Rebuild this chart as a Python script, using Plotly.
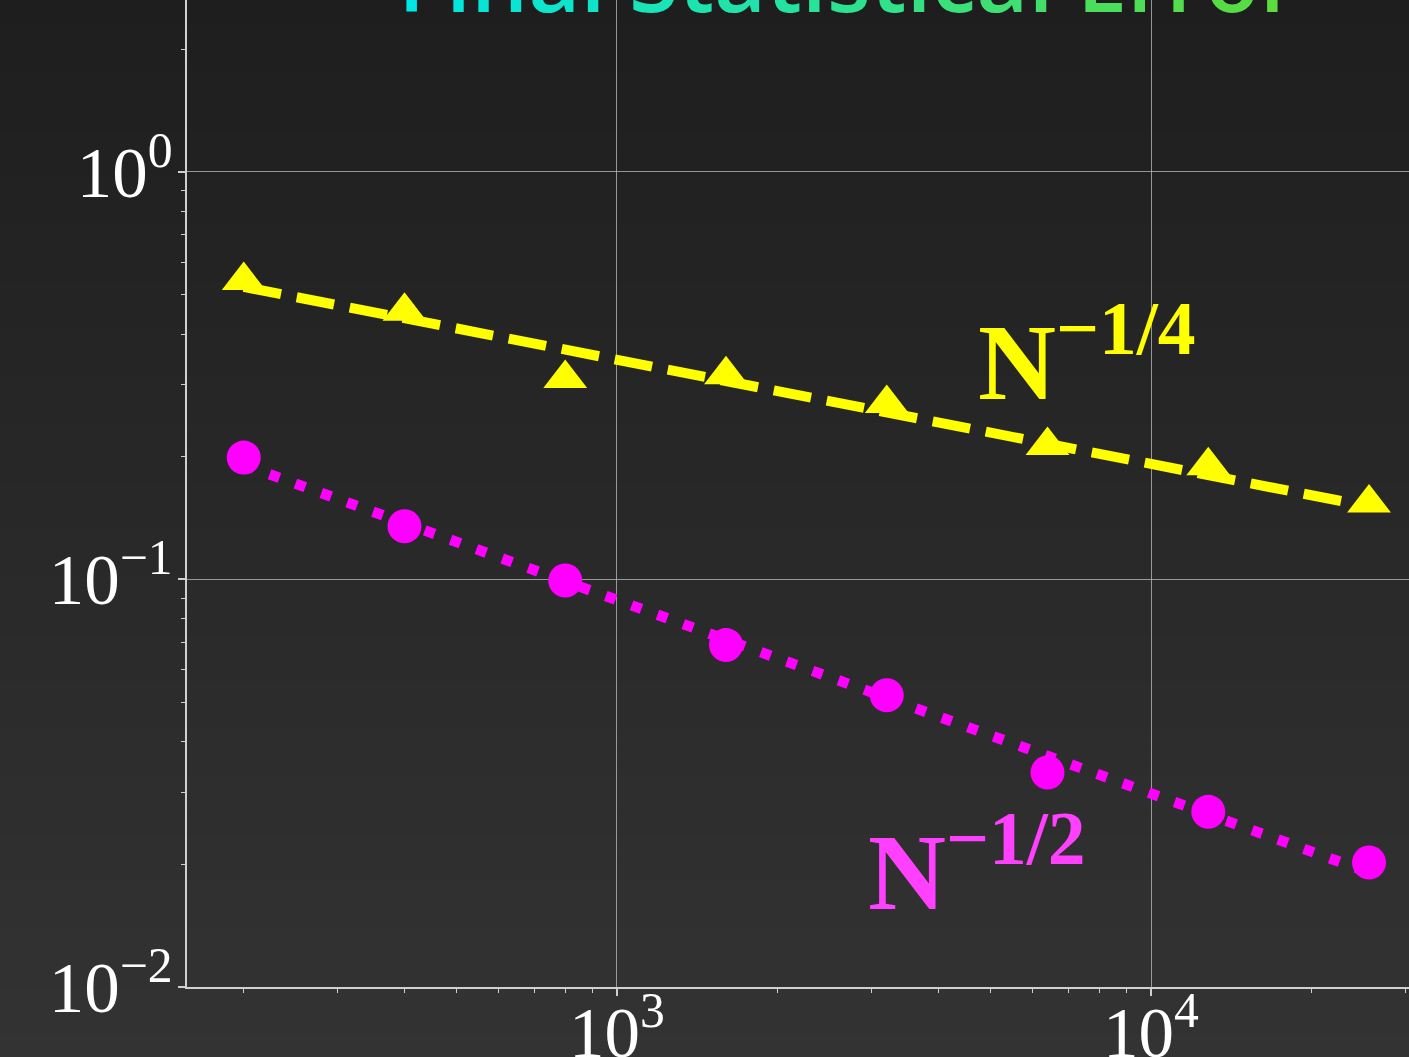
import plotly.graph_objects as go

# ---------------- data ----------------
N = [200, 400, 800, 1600, 3200, 6400, 12800, 25600]
err_half = [0.199, 0.135, 0.0994, 0.0690, 0.0520, 0.0336, 0.0269, 0.0202]      # magenta circles
err_quarter = [0.541, 0.455, 0.311, 0.318, 0.270, 0.213, 0.190, 0.154]         # yellow triangles

ref_N = [200, 25600]
ref_half = [0.191, 0.0191]      # dotted reference line ~ N^-1/2
ref_quarter = [0.522, 0.151]    # dashed reference line ~ N^-1/4

x_tickvals = [1e3, 1e4]
x_ticktext = ["10<sup>3</sup>", "10<sup>4</sup>"]
x_minor_vals = [200, 300, 400, 500, 600, 700, 800, 900,
                2000, 3000, 4000, 5000, 6000, 7000, 8000, 9000,
                20000, 30000]
y_tickvals = [0.01, 0.1, 1]
y_ticktext = ["10<sup>\u22122</sup>", "10<sup>\u22121</sup>", "10<sup>0</sup>"]
y_minor_vals = [0.02, 0.03, 0.04, 0.05, 0.06, 0.07, 0.08, 0.09,
                0.2, 0.3, 0.4, 0.5, 0.6, 0.7, 0.8, 0.9, 2]

title_text = "Final Statistical Error"
label_quarter = "N<sup>\u22121/4</sup>"
label_half = "N<sup>\u22121/2</sup>"

# ---------------- styling ----------------
W, H = 1409, 1057
ML, MR, MT, MB = 187, 0, 0, 70
YELLOW = "#ffff00"
MAGENTA = "#ff00ff"
MAGENTA_TXT = "#ff40ff"
AXIS_COL = "#d0d0d0"
GRID_COL = "rgba(190,190,190,0.75)"

fig = go.Figure()

fig.add_trace(go.Scatter(x=ref_N, y=ref_quarter, mode="lines",
                         line=dict(color=YELLOW, width=10, dash="38px,16px"),
                         hoverinfo="skip"))
fig.add_trace(go.Scatter(x=ref_N, y=ref_half, mode="lines",
                         line=dict(color=MAGENTA, width=10.5, dash="10.5px,17px"),
                         hoverinfo="skip"))
fig.add_trace(go.Scatter(x=N, y=err_quarter, mode="markers",
                         marker=dict(symbol="triangle-up", size=38, color=YELLOW,
                                     line=dict(width=0))))
fig.add_trace(go.Scatter(x=N, y=err_half, mode="markers",
                         marker=dict(symbol="circle", size=34, color=MAGENTA,
                                     line=dict(width=0))))

# background vertical gradient (#1e1e1e top -> #333333 bottom)
shapes = []
nb = 90
plot_h = H - MT - MB
plot_w = W - ML - MR
for i in range(nb):
    p0 = i * H / nb
    p1 = (i + 1) * H / nb + 0.8
    t = (i + 0.5) / nb
    c = int(round(30 + (51 - 30) * t))
    shapes.append(dict(type="rect", xref="paper", yref="paper",
                       x0=-ML / plot_w - 0.01, x1=1 + 0.01,
                       y0=(plot_h + MT - p1) / plot_h, y1=(plot_h + MT - p0) / plot_h,
                       fillcolor=f"rgb({c},{c},{c})", line=dict(width=0),
                       layer="below"))

# gradient-coloured title (clipped by the top edge like the reference)
c0 = (0, 230, 228)
c1 = (92, 220, 62)
spans = []
n = len(title_text)
for k, ch in enumerate(title_text):
    t = k / (n - 1)
    r = int(round(c0[0] + (c1[0] - c0[0]) * t))
    g = int(round(c0[1] + (c1[1] - c0[1]) * t))
    b = int(round(c0[2] + (c1[2] - c0[2]) * t))
    spans.append(f'<span style="color:rgb({r},{g},{b})">{ch}</span>')
title_html = "".join(spans)

annotations = [
    dict(text=title_html, xref="paper", yref="paper",
         x=(848 - ML) / plot_w, y=(plot_h - 40) / plot_h,
         xanchor="center", yanchor="bottom", showarrow=False,
         font=dict(family="Open Sans", size=90, weight=600)),
    dict(text=label_quarter, xref="x", yref="y", x=3.672, y=-0.618,
         xanchor="left", yanchor="bottom", showarrow=False,
         font=dict(family="Liberation Serif", size=108, color=YELLOW, weight="bold")),
    dict(text=label_half, xref="x", yref="y", x=3.466, y=-1.870,
         xanchor="left", yanchor="bottom", showarrow=False,
         font=dict(family="Liberation Serif", size=108, color=MAGENTA_TXT, weight="bold")),
]

axis_common = dict(
    type="log", showline=True, linecolor=AXIS_COL, linewidth=2.2,
    ticks="outside", ticklen=7, tickwidth=1.6, tickcolor=AXIS_COL,
    showgrid=True, gridcolor=GRID_COL, gridwidth=1,
    zeroline=False, tickmode="array", automargin=False,
    tickfont=dict(family="Liberation Serif", size=71, color="#ffffff"),
)

fig.update_xaxes(**axis_common, range=[2.1948, 4.4831],
                 tickvals=x_tickvals, ticktext=x_ticktext, ticklabelstandoff=-24,
                 minor=dict(tickmode="array", tickvals=x_minor_vals, ticks="outside",
                            ticklen=4, tickwidth=1.4, tickcolor=AXIS_COL, showgrid=False))
fig.update_yaxes(**axis_common, range=[-2, 0.4216],
                 tickvals=y_tickvals, ticktext=y_ticktext, ticklabelstandoff=-9,
                 minor=dict(tickmode="array", tickvals=y_minor_vals, ticks="outside",
                            ticklen=4, tickwidth=1.4, tickcolor=AXIS_COL, showgrid=False))

fig.update_layout(
    width=W, height=H, autosize=False,
    margin=dict(l=ML, r=MR, t=MT, b=MB, pad=0, autoexpand=False),
    paper_bgcolor="#282828", plot_bgcolor="rgba(0,0,0,0)",
    showlegend=False, shapes=shapes, annotations=annotations,
    font=dict(family="Liberation Serif", color="#ffffff"),
)

fig.write_html("out.html", config={"displayModeBar": False},
               post_script="document.body.style.margin='0';document.body.style.background='#333';")
